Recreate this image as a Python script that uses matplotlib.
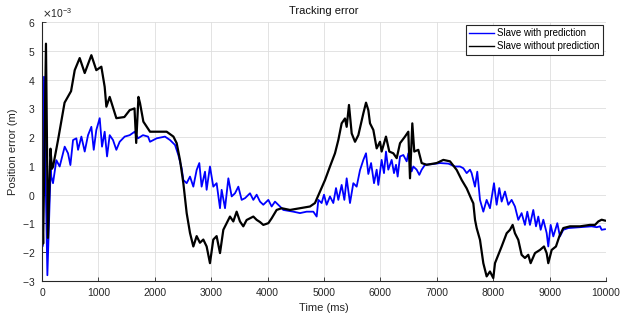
import matplotlib
matplotlib.use("Agg")
import matplotlib.pyplot as plt
import numpy as np

plt.rcParams["font.family"] = ["Liberation Sans", "DejaVu Sans"]

# values in 1e-3 m, time in ms
t_pred = [0, 8, 35, 60, 95, 154, 165, 195, 254, 313, 402, 461, 503, 550, 609, 639, 698,
          757, 816, 875, 917, 963, 1023, 1064, 1111, 1153, 1200, 1259, 1318, 1377, 1466,
          1555, 1643, 1702, 1790, 1880, 1915, 2033, 2180, 2270, 2358, 2417, 2476, 2506,
          2565, 2624, 2683, 2742, 2789, 2830, 2890, 2919, 2978, 3037, 3096, 3156, 3185,
          3245, 3304, 3363, 3422, 3481, 3540, 3600, 3688, 3747, 3806, 3865, 3924, 4013,
          4072, 4131, 4220, 4278, 4456, 4574, 4692, 4811, 4870, 4900, 4958, 5000, 5047,
          5106, 5165, 5213, 5254, 5313, 5361, 5402, 5461, 5520, 5579, 5638, 5698, 5745,
          5786, 5835, 5887, 5934, 5963, 6022, 6064, 6099, 6140, 6200, 6241, 6277, 6306,
          6348, 6407, 6466, 6495, 6554, 6584, 6643, 6690, 6732, 6791, 6909, 7057, 7205,
          7323, 7412, 7471, 7530, 7589, 7618, 7648, 7677, 7718, 7766, 7825, 7884, 7943,
          8014, 8061, 8108, 8150, 8209, 8268, 8327, 8386, 8445, 8504, 8563, 8605, 8652,
          8711, 8759, 8800, 8842, 8889, 8948, 8977, 9019, 9066, 9137, 9184, 9243, 9332,
          9539, 9746, 9835, 9894, 9923, 9982]
e_pred = [0.17, -1.8, 4.1, 1.0, -2.8, 0.95, 0.63, 0.4, 1.2, 0.98, 1.67, 1.44, 1.03, 1.9,
          1.96, 1.56, 2.02, 1.5, 2.07, 2.36, 1.56, 2.25, 2.66, 1.67, 2.19, 1.33, 2.07, 1.9,
          1.56, 1.84, 2.02, 2.07, 2.19, 1.96, 2.07, 2.02, 1.84, 1.96, 2.02, 1.9, 1.73, 1.38,
          0.92, 0.51, 0.4, 0.63, 0.28, 0.86, 1.1, 0.28, 0.8, 0.17, 0.98, 0.28, 0.4, -0.47,
          0.17, -0.47, 0.57, -0.06, 0.05, 0.28, -0.18, -0.12, 0.05, -0.18, 0.0, -0.24,
          -0.35, -0.18, -0.41, -0.24, -0.41, -0.53, -0.59, -0.64, -0.59, -0.59, -0.76,
          -0.18, -0.29, 0.0, -0.35, -0.06, -0.29, 0.23, -0.18, 0.34, -0.18, 0.57, -0.29,
          0.4, 0.28, 0.85, 1.21, 1.44, 0.72, 1.1, 0.4, 0.87, 0.34, 1.21, 0.75, 1.5, 0.87,
          1.21, 0.75, 1.04, 0.63, 1.33, 1.38, 1.16, 1.44, 0.81, 0.98, 0.87, 0.69, 0.87,
          1.04, 1.06, 1.1, 1.08, 0.98, 0.98, 0.92, 0.75, 0.87, 0.75, 0.51, 0.28, 0.8, -0.18,
          -0.59, -0.18, -0.47, 0.4, -0.35, 0.23, -0.24, 0.11, -0.35, -0.18, -0.41, -0.875,
          -0.64, -1.05, -0.59, -1.05, -0.53, -1.1, -0.76, -1.22, -0.87, -1.33, -1.8, -1.05,
          -1.45, -0.99, -1.45, -1.22, -1.16, -1.13, -1.1, -1.13, -1.1, -1.22, -1.2]

t_nopred = [0, 20, 70, 105, 150, 175, 195, 284, 400, 515, 580, 668, 757, 875, 963, 1052,
            1111, 1141, 1200, 1318, 1460, 1555, 1640, 1670, 1710, 1738, 1797, 1915, 2092,
            2210, 2330, 2388, 2447, 2506, 2565, 2624, 2683, 2742, 2800, 2860, 2919, 2978,
            3037, 3096, 3156, 3215, 3274, 3333, 3392, 3451, 3510, 3569, 3628, 3688, 3747,
            3806, 3865, 3924, 4013, 4072, 4160, 4249, 4397, 4574, 4752, 4840, 4929, 5018,
            5106, 5195, 5254, 5313, 5372, 5402, 5443, 5491, 5550, 5609, 5698, 5745, 5786,
            5816, 5875, 5934, 5993, 6022, 6099, 6158, 6229, 6289, 6348, 6436, 6495, 6525,
            6566, 6601, 6672, 6732, 6820, 6998, 7116, 7234, 7353, 7442, 7530, 7619, 7648,
            7678, 7707, 7766, 7825, 7884, 7943, 8002, 8032, 8091, 8150, 8239, 8298, 8345,
            8386, 8445, 8504, 8563, 8622, 8664, 8741, 8830, 8901, 8948, 8977, 9037, 9113,
            9173, 9243, 9362, 9539, 9716, 9805, 9864, 9923, 9982]
e_nopred = [0.0, -1.7, 5.25, -1.5, 1.6, 0.9, 0.97, 1.9, 3.2, 3.6, 4.33, 4.75, 4.23, 4.85,
            4.33, 4.45, 3.75, 3.06, 3.4, 2.66, 2.7, 2.94, 3.0, 1.8, 3.4, 3.18, 2.54, 2.19,
            2.19, 2.19, 2.02, 1.79, 1.2, 0.4, -0.64, -1.33, -1.8, -1.44, -1.67, -1.56, -1.8,
            -2.38, -1.56, -1.44, -2.03, -1.22, -0.99, -0.76, -0.93, -0.59, -0.93, -1.1,
            -0.88, -0.82, -0.76, -0.875, -0.95, -1.05, -0.99, -0.82, -0.53, -0.47, -0.53,
            -0.47, -0.41, -0.29, 0.11, 0.51, 0.98, 1.44, 1.9, 2.48, 2.65, 2.36, 3.12, 2.13,
            1.84, 2.07, 2.83, 3.2, 2.94, 2.48, 2.25, 1.61, 1.84, 1.5, 2.02, 1.5, 1.44, 1.27,
            1.79, 2.02, 2.19, 0.57, 2.48, 1.5, 1.56, 1.1, 1.04, 1.1, 1.21, 1.16, 0.86, 0.51,
            0.22, -0.18, -0.3, -0.875, -1.16, -1.57, -2.38, -2.84, -2.67, -2.9, -2.38, -2.09,
            -1.8, -1.34, -1.22, -1.05, -1.34, -1.57, -2.09, -2.2, -2.09, -2.38, -2.03, -1.92,
            -1.8, -2.03, -2.38, -1.92, -1.8, -1.45, -1.16, -1.1, -1.1, -1.05, -1.05, -0.93,
            -0.87, -0.9]

x_ticks = list(range(0, 10001, 1000))
y_ticks = list(range(-3, 7))

fig = plt.figure(figsize=(6.29, 3.2), dpi=100)
ax = fig.add_axes([0.0668, 0.1219, 0.8966, 0.809])

ax.plot(t_pred, np.array(e_pred) * 1e-3, color="#0000ff", lw=1.3,
        label="Slave with prediction")
ax.plot(t_nopred, np.array(e_nopred) * 1e-3, color="black", lw=1.6,
        label="Slave without prediction")

ax.set_xlim(0, 10000)
ax.set_ylim(-3e-3, 6e-3)
ax.set_xticks(x_ticks)
ax.set_yticks([v * 1e-3 for v in y_ticks])
ax.ticklabel_format(axis="y", style="sci", scilimits=(-3, -3), useMathText=True)
ax.yaxis.get_offset_text().set_fontsize(7.5)
ax.yaxis.get_offset_text().set_color("#262626")

ax.grid(True, color="#dedede", lw=0.6)
ax.set_axisbelow(True)
for s in ["top", "right"]:
    ax.spines[s].set_visible(False)
for s in ["left", "bottom"]:
    ax.spines[s].set_color("#262626")
    ax.spines[s].set_linewidth(0.8)
ax.tick_params(direction="in", length=3, width=0.6, labelsize=7.5,
               colors="#262626", pad=5)

ax.set_title("Tracking error", fontsize=8, color="#111111", pad=6)
ax.set_xlabel("Time (ms)", fontsize=8, color="#262626", labelpad=4)
ax.set_ylabel("Position error (m)", fontsize=8, color="#262626", labelpad=3)

leg = ax.legend(loc="upper right", fontsize=7, fancybox=False, framealpha=1,
                edgecolor="#262626", handlelength=2.6, borderpad=0.35,
                labelspacing=0.3, handletextpad=0.3, borderaxespad=0.3)
leg.get_frame().set_linewidth(0.8)
for line in leg.get_lines():
    line.set_linewidth(1.0)

fig.savefig("out.png", dpi=100)
